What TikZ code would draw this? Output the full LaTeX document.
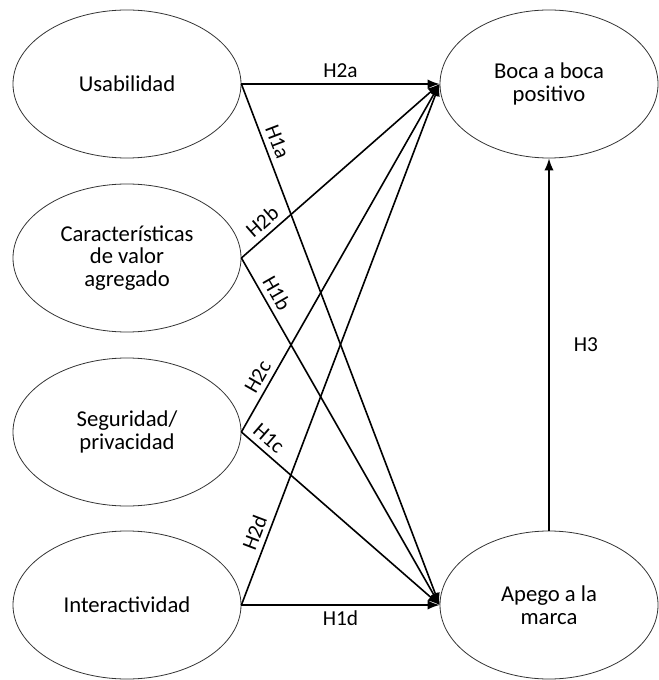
\documentclass[tikz,border=0pt]{standalone}
\usepackage{fontspec}
\setmainfont{Carlito}
\usetikzlibrary{shapes.geometric,arrows.meta}
\begin{document}
\begin{tikzpicture}[x=0.75pt,y=-0.75pt,
  construct/.style={ellipse,draw=black!80,line width=0.6pt,inner sep=0pt,
    align=center,font=\fontsize{17}{17}\selectfont},
  leftell/.style={construct,minimum width=171pt,minimum height=111pt},
  rightell/.style={construct,minimum width=163.5pt,minimum height=111pt},
  hyp/.style={line width=1.2pt,-{Latex[length=9pt,width=7pt]}},
  lab/.style={font=\fontsize{16}{16}\selectfont,inner sep=4pt}]
\useasboundingbox (0,0) rectangle (658,680);
\node[leftell] (usa) at (127,84) {Usabilidad};
\node[leftell] (car) at (127,258) {Características\\de valor\\agregado};
\node[leftell] (seg) at (127,432) {Seguridad/\\privacidad};
\node[leftell] (int) at (127,605) {Interactividad};
\node[rightell] (boca) at (549,84) {Boca a boca\\positivo};
\node[rightell] (apego) at (549,605) {Apego a la\\marca};
% H2: to Boca a boca
\draw[hyp] (usa.east) -- node[lab,above] {H2a} (boca.west);
\draw[hyp] (car.east) -- node[lab,pos=0.15,above,sloped] {H2b} (boca.west);
\draw[hyp] (seg.east) -- node[lab,pos=0.14,above,sloped] {H2c} (boca.west);
\draw[hyp] (int.east) -- node[lab,pos=0.13,above,sloped] {H2d} (boca.west);
% H1: to Apego
\draw[hyp] (usa.east) -- node[lab,pos=0.12,above,sloped] {H1a} (apego.west);
\draw[hyp] (car.east) -- node[lab,pos=0.12,above,sloped] {H1b} (apego.west);
\draw[hyp] (seg.east) -- node[lab,pos=0.095,above,sloped] {H1c} (apego.west);
\draw[hyp] (int.east) -- node[lab,below] {H1d} (apego.west);
% H3
\draw[hyp] (apego.north) -- node[lab,right,xshift=14pt] {H3} (boca.south);
\end{tikzpicture}
\end{document}
